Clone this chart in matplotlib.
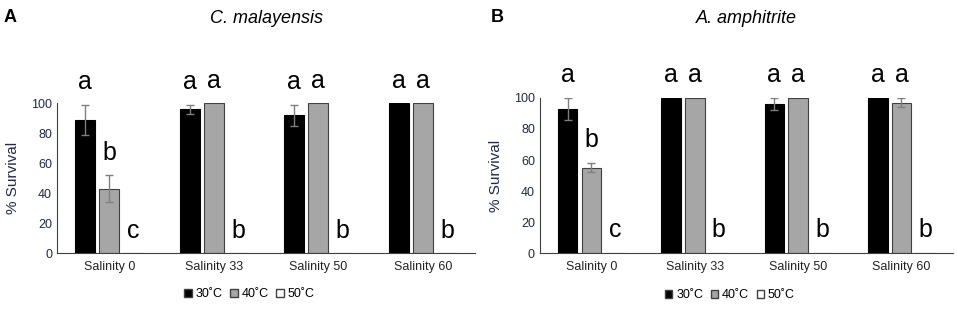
import matplotlib
matplotlib.use("Agg")
import matplotlib.pyplot as plt
import numpy as np
from matplotlib.patches import Patch

plt.rcParams["font.family"] = ["Liberation Sans", "DejaVu Sans"]

categories = ["Salinity 0", "Salinity 33", "Salinity 50", "Salinity 60"]
temps = ["30˚C", "40˚C", "50˚C"]

# panel A - C. malayensis
a_30 = [89, 96, 92, 100]
a_30_err = [10, 3, 7, 0]
a_40 = [43, 100, 100, 100]
a_40_err = [9, 0, 0, 0]
a_50 = [0, 0, 0, 0]
a_letters = [["a", "b", "c"], ["a", "a", "b"], ["a", "a", "b"], ["a", "a", "b"]]

# panel B - A. amphitrite
b_30 = [93, 100, 96, 100]
b_30_err = [7, 0, 4, 0]
b_40 = [55, 100, 100, 97]
b_40_err = [3, 0, 0, 3]
b_50 = [0, 0, 0, 0]
b_letters = [["a", "b", "c"], ["a", "a", "b"], ["a", "a", "b"], ["a", "a", "b"]]

colors = ["#000000", "#a6a6a6", "#ffffff"]
navy = "#1f2a4d"

fig = plt.figure(figsize=(9.57, 3.16), dpi=100)


def panel(rect, vals, errs, letters, title, tag, tag_x):
    ax = fig.add_axes(rect)
    x = np.arange(len(categories))
    w = 0.19
    offs = [-0.23, 0.0, 0.23]
    for i in range(3):
        ax.bar(x + offs[i], vals[i], w, color=colors[i],
               edgecolor="#404040" if i else "#000000", linewidth=0.8)
        if errs[i] is not None:
            e = np.array(errs[i])
            m = e > 0
            ax.errorbar((x + offs[i])[m], np.array(vals[i])[m], yerr=e[m],
                        fmt="none", ecolor="#7f7f7f", elinewidth=1, capsize=3)
    for g in range(len(categories)):
        for i in range(3):
            top = vals[i][g] + (errs[i][g] if errs[i] is not None else 0)
            ax.text(x[g] + offs[i], top + 15, letters[g][i], ha="center",
                    va="center", fontsize=18, clip_on=False)
    ax.set_xlim(-0.5, len(categories) - 0.5)
    ax.set_ylim(0, 100)
    ax.set_yticks(range(0, 101, 20))
    ax.set_xticks(x)
    ax.set_xticklabels(categories, fontsize=9)
    ax.tick_params(length=0, labelsize=9, labelcolor=navy)
    ax.tick_params(axis="x", labelcolor="#222222", pad=6)
    for s in ["top", "right"]:
        ax.spines[s].set_visible(False)
    ax.spines["left"].set_color("#404040")
    ax.spines["bottom"].set_color("#404040")
    ax.set_ylabel("% Survival", fontsize=11, color=navy, labelpad=8)
    fig.text(rect[0] + rect[2] / 2, 0.943, title, ha="center", va="center",
             fontsize=13, style="italic")
    fig.text(tag_x, 0.97, tag, fontsize=13, fontweight="bold", va="top")
    handles = [Patch(facecolor=colors[i], edgecolor="#404040", label=temps[i])
               for i in range(3)]
    ax.legend(handles=handles, loc="upper center", bbox_to_anchor=(0.46, -0.16),
              ncol=3, frameon=False, fontsize=9, handlelength=0.6,
              handleheight=0.6, handletextpad=0.3, columnspacing=0.6)
    return ax


panel([0.0596, 0.199, 0.437, 0.475], [a_30, a_40, a_50],
      [a_30_err, a_40_err, None], a_letters, "C. malayensis", "A", 0.004)
panel([0.564, 0.199, 0.432, 0.491], [b_30, b_40, b_50],
      [b_30_err, b_40_err, None], b_letters, "A. amphitrite", "B", 0.513)

fig.savefig("out.png", dpi=100)
